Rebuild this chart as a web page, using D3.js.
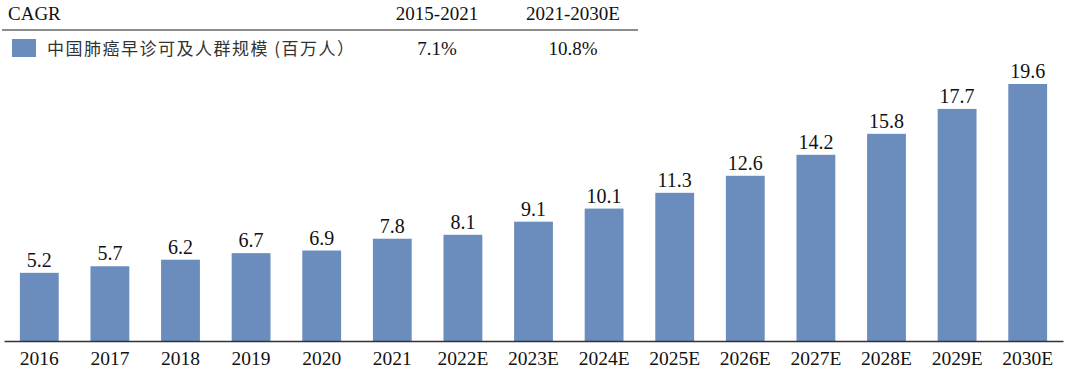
<!DOCTYPE html>
<html>
<head>
<meta charset="utf-8">
<script src="https://cdn.jsdelivr.net/npm/d3@7"></script>
<style>
  body { margin: 0; background: #fff; }
  svg { display: block; }
</style>
</head>
<body>
<div id="container"></div>
<script>
/* DATA */
const years = ["2016","2017","2018","2019","2020","2021","2022E","2023E","2024E","2025E","2026E","2027E","2028E","2029E","2030E"];
const values = [5.2, 5.7, 6.2, 6.7, 6.9, 7.8, 8.1, 9.1, 10.1, 11.3, 12.6, 14.2, 15.8, 17.7, 19.6];
const cagrPeriods = ["2015-2021", "2021-2030E"];
const cagrValues = ["7.1%", "10.8%"];
const seriesName = "中国肺癌早诊可及人群规模 (百万人）";

/* CONSTANTS */
const width = 1080, height = 377;
const baseline = 341;
const barColor = "#6b8dbe";
const serif = "'Liberation Serif', 'Times New Roman', serif";
const cjk = "'Noto Sans CJK SC', sans-serif";

const svg = d3.select("#container")
  .append("svg")
  .attr("width", width)
  .attr("height", height);

/* SCALES */
const xScale = d3.scaleBand()
  .domain(years)
  .range([4, 1063])
  .paddingInner(0.45)
  .paddingOuter(0.225);

const yScale = d3.scaleLinear()
  .domain([0, 19.6])
  .range([baseline, 84]);

/* HEADER / LEGEND TABLE */
svg.append("text")
  .attr("x", 8).attr("y", 20)
  .attr("font-family", serif).attr("font-size", 19)
  .attr("fill", "#111")
  .text("CAGR");

const colX = [437, 573];
svg.selectAll(".period")
  .data(cagrPeriods)
  .join("text")
  .attr("class", "period")
  .attr("x", (d, i) => colX[i]).attr("y", 20)
  .attr("text-anchor", "middle")
  .attr("font-family", serif).attr("font-size", 19)
  .attr("fill", "#111")
  .text(d => d);

svg.append("line")
  .attr("x1", 2).attr("x2", 638)
  .attr("y1", 30).attr("y2", 30)
  .attr("stroke", "#666").attr("stroke-width", 1.5);

svg.append("rect")
  .attr("x", 12).attr("y", 39)
  .attr("width", 24).attr("height", 18)
  .attr("fill", barColor);

svg.append("text")
  .attr("x", 47).attr("y", 55)
  .attr("font-family", cjk).attr("font-size", 17)
  .attr("letter-spacing", 1.5)
  .attr("fill", "#333")
  .text(seriesName);

svg.selectAll(".cagr")
  .data(cagrValues)
  .join("text")
  .attr("class", "cagr")
  .attr("x", (d, i) => colX[i]).attr("y", 55)
  .attr("text-anchor", "middle")
  .attr("font-family", serif).attr("font-size", 19)
  .attr("fill", "#111")
  .text(d => d);

/* BARS */
svg.selectAll(".bar")
  .data(values)
  .join("rect")
  .attr("class", "bar")
  .attr("x", (d, i) => xScale(years[i]))
  .attr("y", d => yScale(d))
  .attr("width", xScale.bandwidth())
  .attr("height", d => baseline - yScale(d))
  .attr("fill", barColor);

svg.selectAll(".val")
  .data(values)
  .join("text")
  .attr("class", "val")
  .attr("x", (d, i) => xScale(years[i]) + xScale.bandwidth() / 2)
  .attr("y", d => yScale(d) - 6)
  .attr("text-anchor", "middle")
  .attr("font-family", serif).attr("font-size", 20)
  .attr("fill", "#111")
  .text(d => d.toFixed(1));

/* AXIS */
const xAxis = d3.axisBottom(xScale).tickSize(0).tickPadding(10);
const gx = svg.append("g")
  .attr("transform", `translate(0,${baseline})`)
  .call(xAxis);
gx.select(".domain").attr("stroke", "#333").attr("stroke-width", 1.5);
gx.selectAll("text")
  .attr("font-family", serif).attr("font-size", 19.5)
  .attr("fill", "#111");
</script>
</body>
</html>
